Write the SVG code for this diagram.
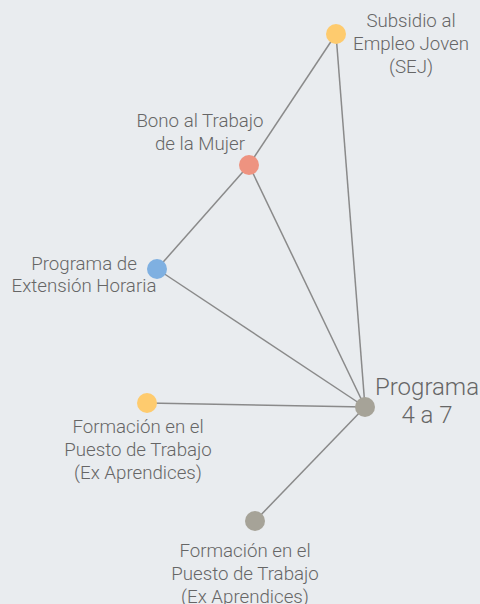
<svg xmlns="http://www.w3.org/2000/svg" width="480" height="604" viewBox="0 0 480 604">
<style>
.lbl{font-family:Roboto,"Liberation Sans",sans-serif;font-weight:300;font-size:18.7px;fill:#666;text-anchor:middle}
.big{font-size:24px}
.edge{stroke:#8a8a8a;stroke-width:1.5;fill:none}
</style>
<rect width="480" height="604" fill="#e9ecef"/>
<g id="edges">
<line class="edge" x1="336" y1="34" x2="249" y2="165"/>
<line class="edge" x1="336" y1="34" x2="365" y2="407"/>
<line class="edge" x1="249" y1="165" x2="157" y2="269"/>
<line class="edge" x1="249" y1="165" x2="365" y2="407"/>
<line class="edge" x1="157" y1="269" x2="365" y2="407"/>
<line class="edge" x1="147" y1="403" x2="365" y2="407"/>
<line class="edge" x1="365" y1="407" x2="255" y2="521"/>
</g>
<g id="sej"><circle cx="336" cy="34" r="10" fill="#fecb6e"/>
<text class="lbl" x="411" y="27">Subsidio al</text><text class="lbl" x="411" y="50">Empleo Joven</text><text class="lbl" x="411" y="73">(SEJ)</text></g>
<g id="bono"><circle cx="249" cy="165" r="10" fill="#ee9380"/>
<text class="lbl" x="200" y="127">Bono al Trabajo</text><text class="lbl" x="200" y="150">de la Mujer</text></g>
<g id="peh"><circle cx="157" cy="269" r="10" fill="#7fb0e1"/>
<text class="lbl" x="84" y="270">Programa de</text><text class="lbl" x="84" y="292">Extensión Horaria</text></g>
<g id="fpt1"><circle cx="147" cy="403" r="10" fill="#fecb6e"/>
<text class="lbl" x="138" y="433">Formación en el</text><text class="lbl" x="138" y="456">Puesto de Trabajo</text><text class="lbl" x="138" y="479">(Ex Aprendices)</text></g>
<g id="p47"><circle cx="365" cy="407" r="10" fill="#a6a398"/>
<text class="lbl big" x="427" y="395">Programa</text><text class="lbl big" x="427" y="423">4 a 7</text></g>
<g id="fpt2"><circle cx="255" cy="521" r="10" fill="#a6a398"/>
<text class="lbl" x="245" y="557">Formación en el</text><text class="lbl" x="245" y="580">Puesto de Trabajo</text><text class="lbl" x="245" y="603">(Ex Aprendices)</text></g>
</svg>
